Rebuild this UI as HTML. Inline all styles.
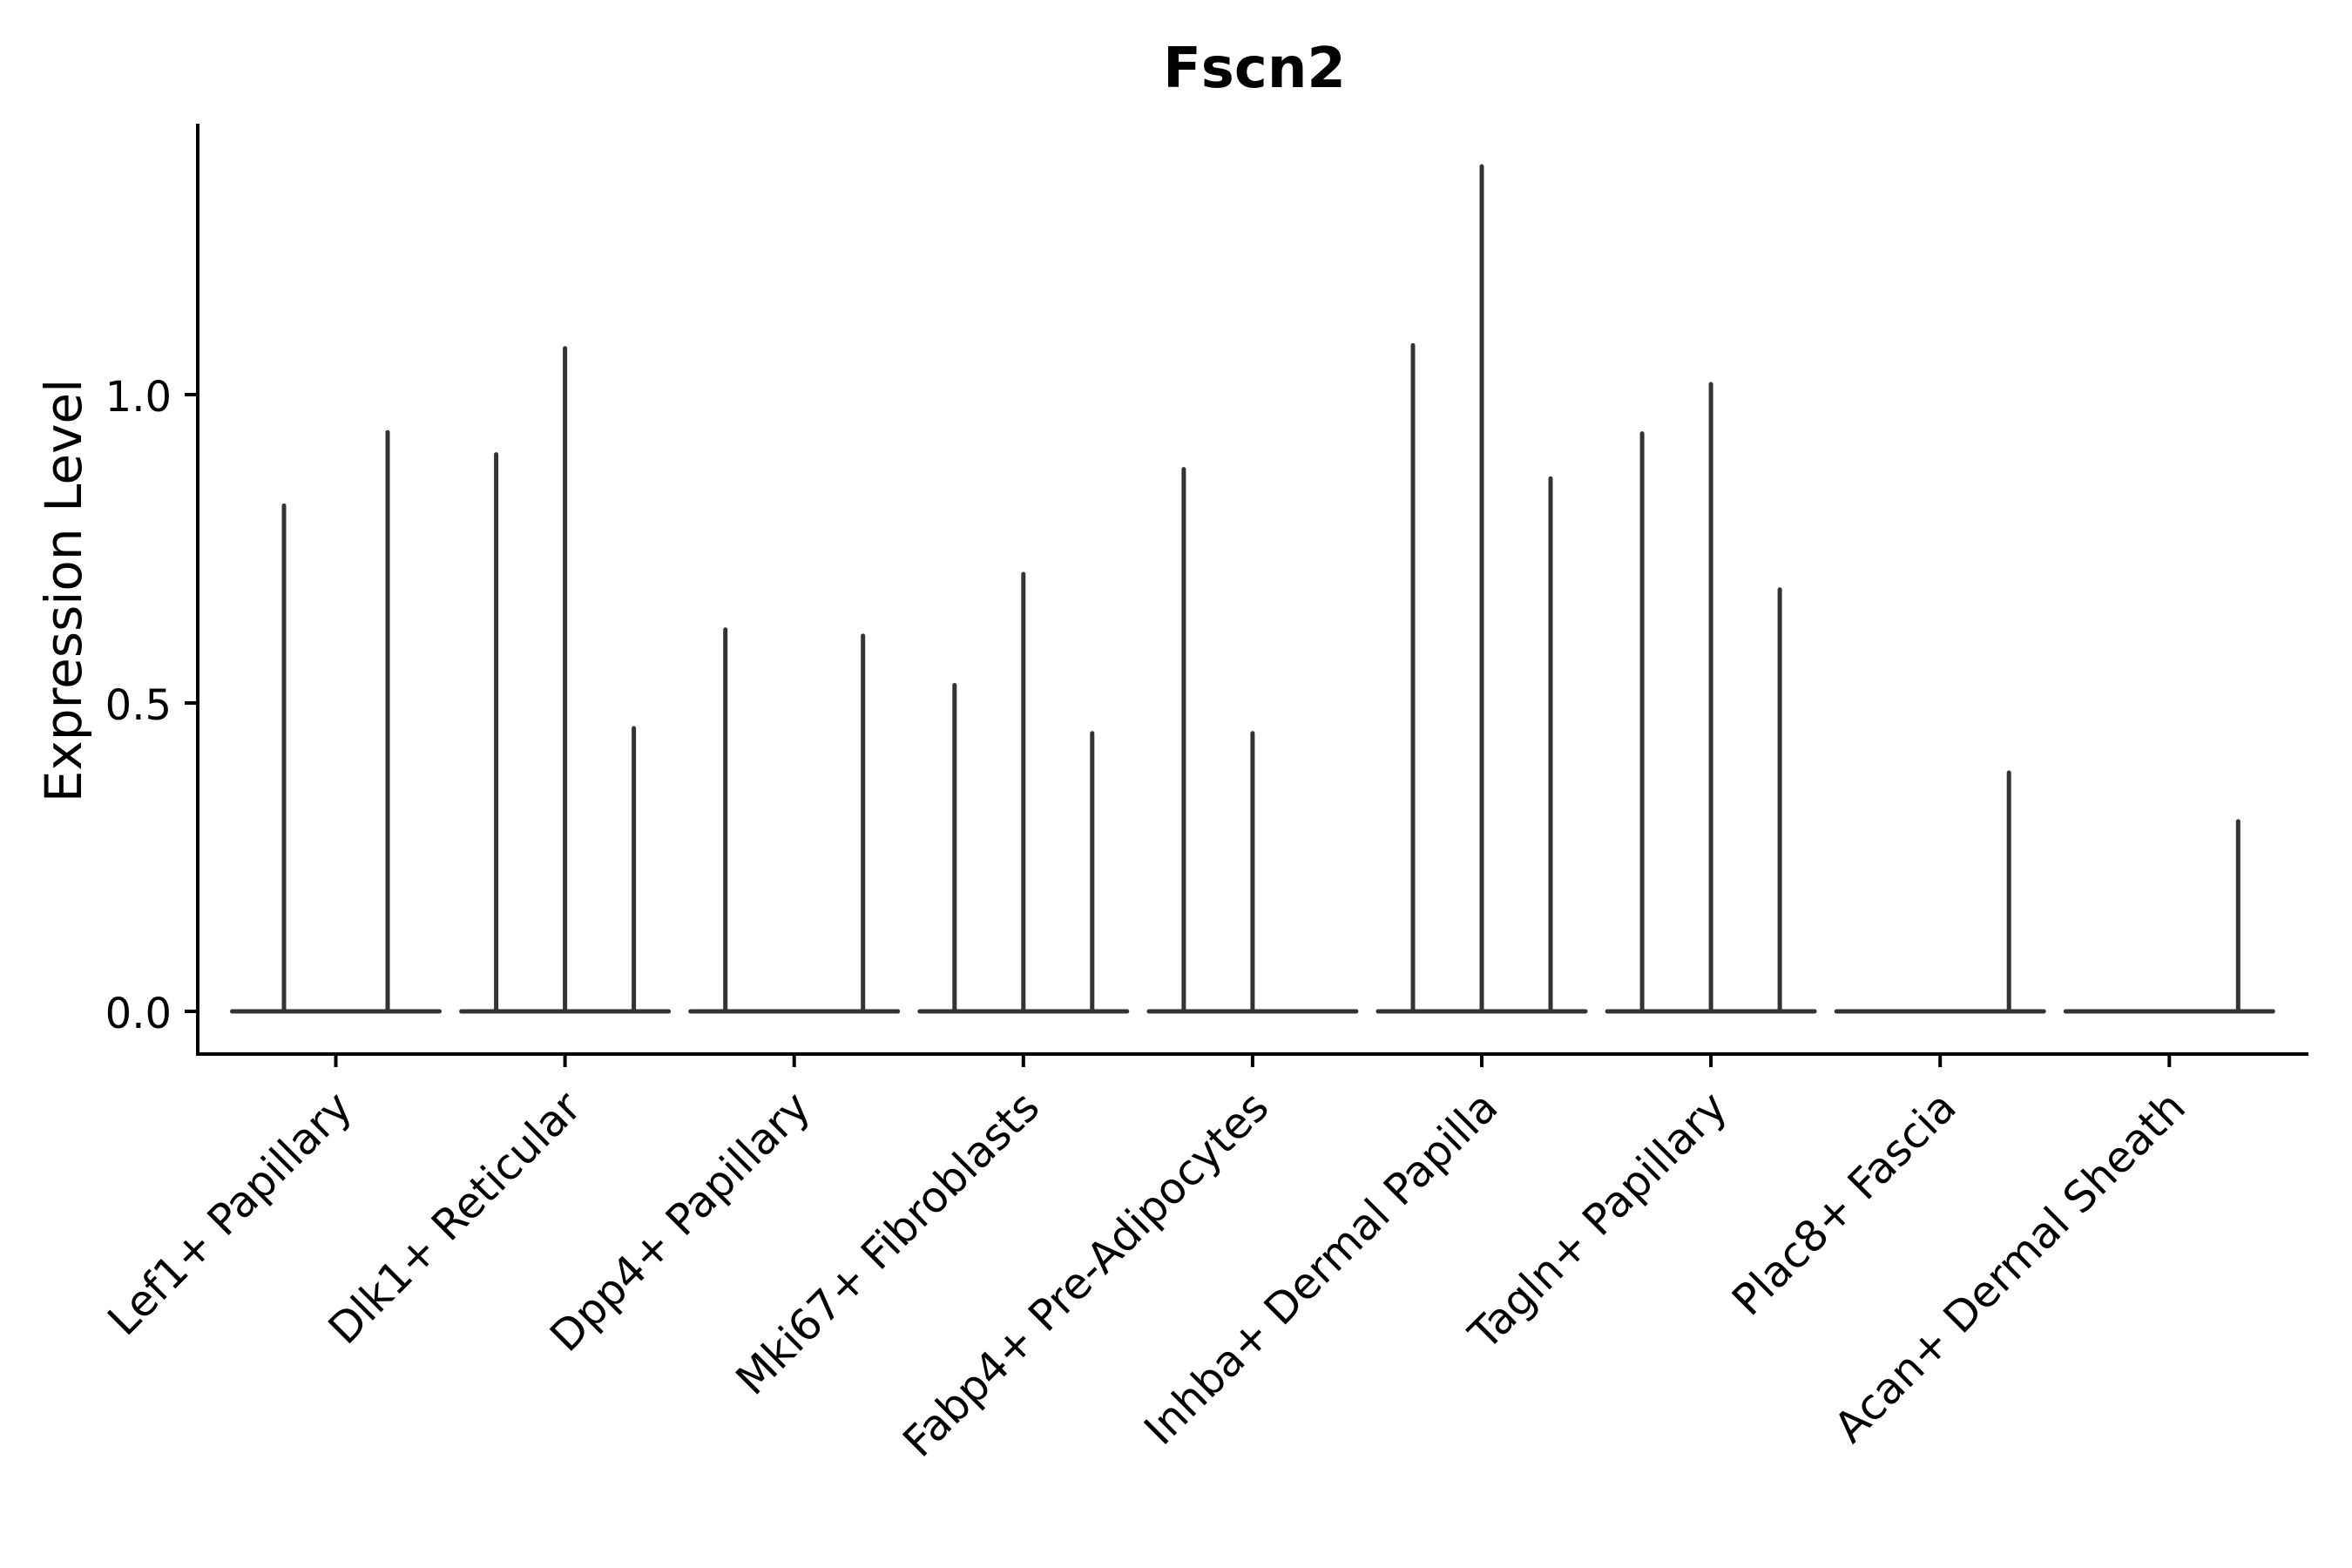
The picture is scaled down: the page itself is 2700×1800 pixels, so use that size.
<!DOCTYPE html>
<html><head><meta charset="utf-8"><style>html,body{margin:0;padding:0;background:#fff}svg{display:block}</style></head>
<body>
<svg width="2700" height="1800" viewBox="0 0 2700 1800" xmlns="http://www.w3.org/2000/svg" font-family="'DejaVu Sans','Liberation Sans',sans-serif">
<rect width="2700" height="1800" fill="#fff"/>
<text x="1440" y="100" font-size="64" font-weight="bold" text-anchor="middle">Fscn2</text>
<g stroke="#333" stroke-width="5" stroke-linecap="round" fill="none" id="v"></g>
<g stroke="#000" stroke-width="4" fill="none">
<line x1="227" y1="142" x2="227" y2="1212"/>
<line x1="225" y1="1210" x2="2650" y2="1210"/>
<line x1="212" y1="453" x2="227" y2="453"/>
<line x1="212" y1="807" x2="227" y2="807"/>
<line x1="212" y1="1161" x2="227" y2="1161"/>
</g>
<g font-size="48" text-anchor="end">
<text x="197" y="472">1.0</text>
<text x="197" y="826">0.5</text>
<text x="197" y="1180">0.0</text>
</g>
<text transform="translate(93,678) rotate(-90)" font-size="58" text-anchor="middle">Expression Level</text>
<g id="xl" font-size="49" text-anchor="end"></g>
<script>
var data=[
 [[-59.5,0.820],[59.5,0.939]],
 [[-79,0.903],[0,1.075],[79,0.459]],
 [[-79,0.619],[79,0.609]],
 [[-79,0.529],[0,0.709],[79,0.451]],
 [[-79,0.879],[0,0.451]],
 [[-79,1.080],[0,1.370],[79,0.864]],
 [[-79,0.937],[0,1.017],[79,0.684]],
 [[79,0.387]],
 [[79,0.308]]];
var labels=["Lef1+ Papillary","Dlk1+ Reticular","Dpp4+ Papillary","Mki67+ Fibroblasts","Fabp4+ Pre-Adipocytes","Inhba+ Dermal Papilla","Tagln+ Papillary","Plac8+ Fascia","Acan+ Dermal Sheath"];
var NS="http://www.w3.org/2000/svg";
var v=document.getElementById('v'),xl=document.getElementById('xl'),ax=document.querySelector('g[stroke="#000"]');
function el(t,a,p){var e=document.createElementNS(NS,t);for(var k in a)e.setAttribute(k,a[k]);p.appendChild(e);return e;}
for(var i=0;i<9;i++){
 var c=385.5+263.1*i;
 el('line',{x1:c-119,y1:1161,x2:c+119,y2:1161},v);
 data[i].forEach(function(d){var x=c+d[0];el('line',{x1:x,y1:1161,x2:x,y2:1161-708*d[1]},v);});
 el('line',{x1:c,y1:1210,x2:c,y2:1225},ax);
 var t=el('text',{transform:'translate('+(c+21)+',1274) rotate(-45)'},xl);t.textContent=labels[i];
}
</script>
</svg>
</body></html>
